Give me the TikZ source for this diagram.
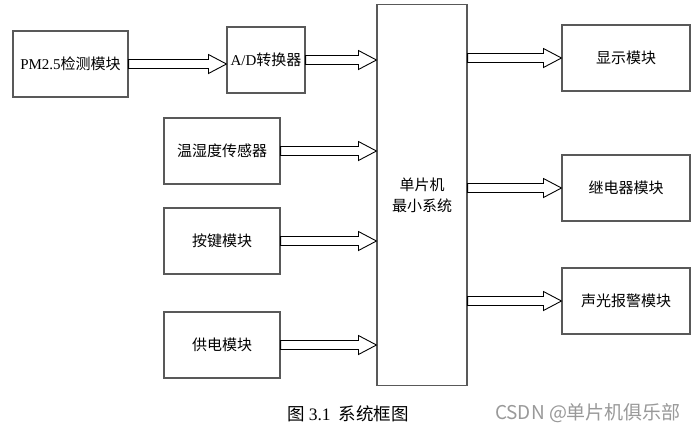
\documentclass[tikz,border=0pt]{standalone}
\usepackage{fontspec}
\setmainfont{Noto Sans CJK SC}
\newfontfamily\latinserif{Liberation Serif}
\newfontfamily\wmfont{Noto Sans CJK SC}
\usetikzlibrary{calc}
\tikzset{
  blk/.style={draw=black!65, line width=1.1pt, rectangle, inner sep=0pt, align=center,
    font=\fontsize{15}{21}\selectfont},
  hollow/.style={draw=black, line width=0.9pt, fill=white,
    to path={let \p1=(\tikztostart), \p2=(\tikztotarget) in
      (\x1,\y1+4.5pt) -- (\x2-18pt,\y1+4.5pt) -- (\x2-18pt,\y1+9.5pt) -- (\x2,\y1)
      -- (\x2-18pt,\y1-9.5pt) -- (\x2-18pt,\y1-4.5pt) -- (\x1,\y1-4.5pt) -- cycle}}
}
\begin{document}
\begin{tikzpicture}[x=1pt,y=-1pt]
\useasboundingbox[fill=white] (0,0) rectangle (699,432);
\node[blk, minimum width=115pt, minimum height=66pt] (pm) at (70.5,64) {{\latinserif PM2.5}检测模块};
\node[blk, minimum width=78pt, minimum height=66pt] (ad) at (266,60) {{\latinserif A/D}转换器};
\node[blk, minimum width=116pt, minimum height=66pt] (th) at (222,151) {温湿度传感器};
\node[blk, minimum width=116pt, minimum height=66pt] (key) at (222,241) {按键模块};
\node[blk, minimum width=116pt, minimum height=66pt] (pwr) at (222,345) {供电模块};
\node[blk, minimum width=90pt, minimum height=381pt] (mcu) at (422,195) {单片机\\最小系统};
\node[blk, minimum width=128pt, minimum height=66pt] (disp) at (626,58) {显示模块};
\node[blk, minimum width=128pt, minimum height=66pt] (relay) at (626,188) {继电器模块};
\node[blk, minimum width=128pt, minimum height=66pt] (alarm) at (626,301) {声光报警模块};

\path[hollow] (pm.east) to (ad.west |- pm.east);
\path[hollow] (ad.east) to (ad.east -| mcu.west);
\path[hollow] (th.east) to (th.east -| mcu.west);
\path[hollow] (key.east) to (key.east -| mcu.west);
\path[hollow] (pwr.east) to (pwr.east -| mcu.west);
\path[hollow] (mcu.east |- disp.west) to (disp.west);
\path[hollow] (mcu.east |- relay.west) to (relay.west);
\path[hollow] (mcu.east |- alarm.west) to (alarm.west);

\node[font=\fontsize{17.5}{20}\selectfont] (cap) at (348,414) {图 {\latinserif 3.1}\ \ 系统框图};
\node[font=\fontsize{19}{22}\selectfont\wmfont, text=black!40] (wm) at (588,413) {CSDN @单片机俱乐部};
\end{tikzpicture}
\end{document}
